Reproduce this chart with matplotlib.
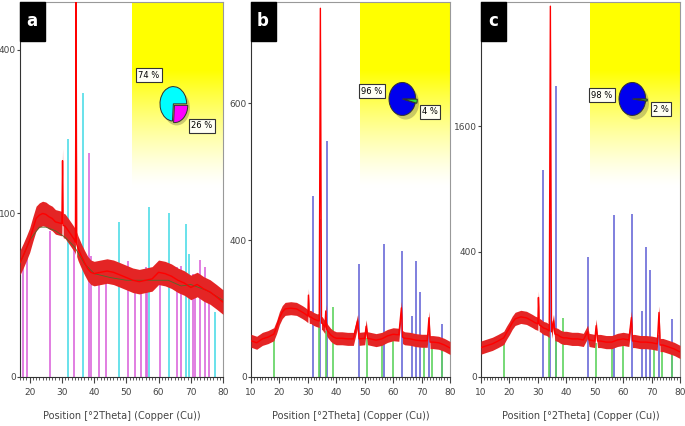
import numpy as np
import matplotlib
matplotlib.use("Agg")
import matplotlib.pyplot as plt
from matplotlib.patches import Rectangle, Ellipse

# ---- panel a (counts, sqrt axis) ----
a_pos = [17, 18, 19, 20, 21, 22, 23, 24, 25, 26, 27, 28, 29, 30, 30.2, 30.4, 31, 32, 33, 34,
         34.2, 34.4, 34.6, 35, 36, 37, 38, 39, 40, 42, 44, 46, 48, 50, 52, 54, 56, 58, 60, 62,
         64, 66, 68, 70, 72, 74, 76, 78, 80]
a_int = [49, 55, 62, 70, 82, 94, 98, 100, 99, 96, 94, 90, 89, 88, 175, 86, 85, 80, 75, 70,
         68, 560, 66, 62, 55, 49, 44, 41, 40, 41, 42, 41, 39, 37, 35, 34, 35, 36, 41, 40,
         38, 35, 33, 30, 32, 29, 27, 24, 21]
a_bg_pos = [17, 20, 23, 25, 28, 31, 34, 37, 40, 45, 50, 55, 60, 63, 67, 70, 75, 80]
a_bg = [48, 70, 84, 84, 80, 73, 63, 48, 40, 37, 35, 35, 35, 35, 31, 32, 28, 22]
a_cyan_pos = [31.9, 36.4, 47.8, 57.0, 63.3, 68.5, 69.6, 77.6]
a_cyan = [211, 302, 90, 108, 101, 88, 57, 16]
a_mag_pos = [17.9, 19.3, 26.4, 33.7, 38.5, 39.0, 41.6, 43.7, 50.4, 52.8, 54.5, 56.0, 56.4,
             60.5, 65.7, 67.0, 70.7, 71.4, 73.0, 74.5, 75.8]
a_mag = [55, 60, 80, 70, 187, 55, 45, 45, 50, 40, 40, 45, 40, 50, 45, 46, 40, 35, 51, 45, 30]
a_pie = [74, 26]

# ---- panel b ----
b_pos = [10, 12, 14, 16, 18, 19, 20, 21, 22, 24, 26, 28, 29, 30, 30.2, 30.5, 31, 32, 33, 34,
         34.4, 34.8, 35, 36, 36.3, 36.6, 37, 38, 39, 40, 42, 44, 46, 47.5, 48, 50, 50.5, 51,
         52, 54, 56, 58, 60, 62, 62.9, 63.3, 64, 66, 68, 70, 72, 72.6, 73, 74, 76, 78, 80]
b_int = [28, 25, 31, 34, 39, 53, 74, 90, 99, 101, 99, 90, 85, 79, 143, 77, 77, 72, 69, 67,
         2900, 62, 62, 53, 93, 49, 45, 38, 34, 32, 32, 31, 31, 67, 31, 32, 55, 32,
         31, 29, 31, 36, 39, 38, 102, 34, 32, 31, 29, 28, 28, 75, 26, 26, 25, 22, 18]
b_blue_pos = [31.9, 34.4, 36.6, 47.9, 56.9, 63.1, 66.7, 68.1, 69.4, 72.7, 77.2]
b_blue = [698, 532, 1187, 271, 375, 338, 79, 287, 155, 40, 61]
b_green_pos = [18.1, 33.8, 36.3, 38.7, 50.7, 56.0, 60.1, 71.0, 73.7, 77.2]
b_green = [45, 84, 45, 104, 33, 27, 33, 23, 23, 20]
b_pie = [96, 4]

# ---- panel c ----
c_pos = [10, 12, 14, 16, 18, 19, 20, 21, 22, 24, 26, 28, 29, 30, 30.2, 30.5, 31, 32, 33, 34,
         34.4, 34.8, 35.5, 36, 37, 38, 39, 40, 42, 44, 46, 47.5, 48, 50, 50.5, 51, 52, 54,
         56, 58, 60, 62, 62.9, 63.3, 64, 66, 68, 70, 72, 72.6, 73, 74, 76, 78, 80]
c_int = [22, 25, 28, 33, 39, 50, 61, 75, 86, 92, 89, 80, 75, 72, 161, 69, 67, 61, 59, 54,
         3500, 52, 80, 47, 45, 41, 39, 39, 37, 37, 35, 52, 35, 33, 67, 33, 33, 31,
         31, 35, 37, 35, 90, 33, 33, 31, 31, 30, 28, 106, 26, 26, 23, 20, 16]
c_blue_pos = [31.9, 34.4, 36.3, 47.6, 56.7, 63.1, 66.6, 68.0, 69.4, 72.7, 77.1]
c_blue = [1094, 677, 2158, 369, 664, 678, 112, 433, 291, 45, 85]
c_green_pos = [18.1, 33.8, 36.3, 38.7, 50.6, 56.0, 60.1, 71.0, 73.7, 77.2]
c_green = [40, 71, 45, 90, 30, 30, 30, 28, 28, 25]
c_pie = [98, 2]

W, H = 685, 426
fig = plt.figure(figsize=(W / 100, H / 100), dpi=100)
fig.patch.set_facecolor("white")


def sq(v):
    return np.sqrt(np.clip(v, 0, None))


def unsq(v):
    return np.asarray(v) ** 2


def panel(left, width, xlim, ylim, yticks, ylabels, pos, inten, noise, sticks, yellow_x, letter):
    ax = fig.add_axes([left / W, 1 - 377 / H, width / W, 375 / H])
    ax.set_yscale("function", functions=(sq, unsq))
    # yellow to white gradient box
    t = np.linspace(1, 0, 200)[:, None]
    k = np.clip((t - 0.05) / 0.6, 0, 1) ** 1.3
    img = np.ones((200, 2, 3))
    img[..., 2] = 1 - k[:, [0, 0]]
    fx = (yellow_x - xlim[0]) / (xlim[1] - xlim[0])
    ax.imshow(img, extent=(fx, 1, 0.48, 1), transform=ax.transAxes, aspect="auto",
              interpolation="bilinear", zorder=0)
    # reference sticks
    for spos, sval, col in sticks:
        ax.vlines(spos, 0, sval, colors=col, lw=1.2, zorder=2)
    # measured pattern
    p = np.array(pos, float)
    s = np.sqrt(np.array(inten, float))
    ax.fill_between(p, np.clip(s - noise, 0, None) ** 2, (s + noise) ** 2,
                    color="#e42525", lw=0, zorder=3)
    ax.plot(p, inten, color="#ff0000", lw=1.0, zorder=4)
    ax.set_xlim(*xlim)
    ax.set_ylim(*ylim)
    ax.set_yticks(yticks)
    ax.set_yticklabels(ylabels)
    ax.set_xticks(np.arange(10, 81, 10))
    ax.set_xticks(np.arange(xlim[0], 81, 1), minor=True)
    ax.set_xlim(*xlim)
    ax.tick_params(axis="both", which="major", labelsize=6.5, colors="#444444", length=4, width=0.8)
    ax.tick_params(axis="x", which="major", pad=4)
    ax.tick_params(axis="x", which="minor", length=2.5, width=0.6, colors="#444444")
    ax.tick_params(axis="y", which="minor", length=0)
    ax.tick_params(axis="y", pad=0.5, length=2.5)
    for sp in ["top", "right"]:
        ax.spines[sp].set_color("#999999")
        ax.spines[sp].set_linewidth(0.8)
    ax.spines["left"].set_color("#333333")
    ax.spines["bottom"].set_color("#333333")
    ax.set_xlabel("Position [°2Theta] (Copper (Cu))", fontsize=7, color="#444444", labelpad=10)
    # panel letter box
    ax.add_patch(Rectangle((0, 0.896), 25 / width, 0.104, transform=ax.transAxes,
                           color="black", zorder=10, clip_on=False))
    ax.text(12 / width, 0.948, letter, transform=ax.transAxes, color="white", fontsize=12,
            fontweight="bold", ha="center", va="center", zorder=11)
    return ax


def pie(cx, cy, w, h, vals, colors, labels, label_xy):
    pa = fig.add_axes([(cx - w / 2) / W, 1 - (cy + h / 2) / H, w / W, h / H])
    pa.add_patch(Ellipse((0.25, -0.25), 2.0, 2.0, color="#8a8a50", alpha=0.45, lw=0))
    pa.pie(vals, colors=colors, startangle=0, explode=[0, 0.12],
           wedgeprops=dict(edgecolor="#303030", linewidth=0.7))
    pa.set_aspect("auto")
    pa.set_xlim(-1.15, 1.4)
    pa.set_ylim(-1.4, 1.15)
    pa.axis("off")
    for lab, (lx, ly) in zip(labels, label_xy):
        fig.text(lx / W, 1 - ly / H, lab, fontsize=6, ha="center", va="center",
                 bbox=dict(boxstyle="square,pad=0.25", fc="#fffff4", ec="#333333", lw=0.8))


ax_a = panel(20, 203, (17, 80), (0, 526), [0, 100, 400], ["0", "100", "400"],
             a_pos, a_int, 0.75,
             [(a_cyan_pos, a_cyan, "#4fdde8"), (a_mag_pos, a_mag, "#dc68dc")], 51.7, "a")
ax_a.plot(a_bg_pos, a_bg, color="#4f6b2a", lw=0.6, zorder=3.5)

panel(251, 199, (10, 80), (0, 3000), [0, 400, 1600], ["0", "400", "600"],
      b_pos, b_int, 0.95,
      [(b_blue_pos, b_blue, "#6a6ad8"), (b_green_pos, b_green, "#5fd35f")], 48.3, "b")

panel(481, 199, (10, 80), (0, 3580), [0, 400, 1600], ["0", "400", "1600"],
      c_pos, c_int, 1.05,
      [(c_blue_pos, c_blue, "#6a6ad8"), (c_green_pos, c_green, "#5fd35f")], 48.3, "c")

pie(175, 106, 34, 44, a_pie, ["#00ffff", "#ff00ff"], ["74 %", "26 %"], [(149, 75), (202, 126)])
pie(404, 101, 34, 42, b_pie, ["#0000ee", "#33dd33"], ["96 %", "4 %"], [(372, 91), (430, 112)])
pie(634, 101, 34, 42, c_pie, ["#0000ee", "#33dd33"], ["98 %", "2 %"], [(602, 95), (661, 109)])

fig.savefig("out.png", dpi=100)
